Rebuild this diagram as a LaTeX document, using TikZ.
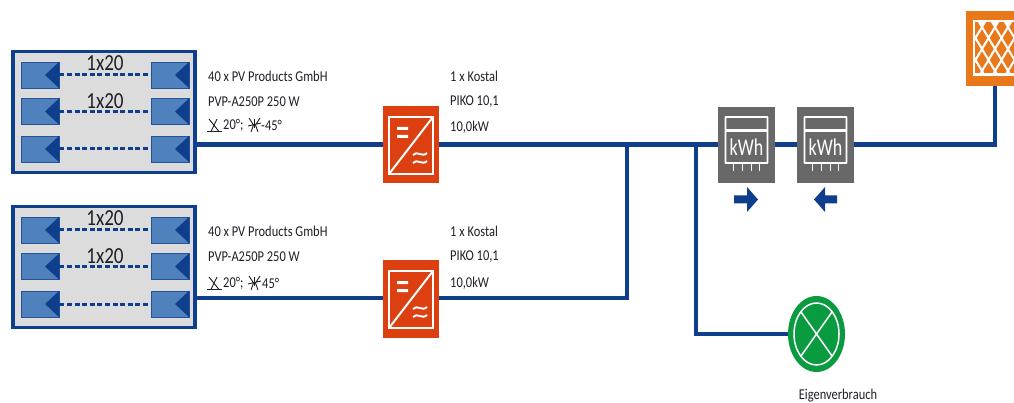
\documentclass[tikz,border=0pt]{standalone}
\usepackage{graphicx}
\usepackage{fontspec}
\setmainfont{Carlito}
\usetikzlibrary{shapes.geometric}
\definecolor{navy}{HTML}{0F3F8C}
\definecolor{panelgrey}{HTML}{DCDCDC}
\definecolor{modblue}{HTML}{4F81BD}
\definecolor{invred}{HTML}{DC4010}
\definecolor{metergrey}{HTML}{686868}
\definecolor{gridorange}{HTML}{E8781A}
\definecolor{loadgreen}{HTML}{0A9A40}
\definecolor{txt}{HTML}{1E1E26}
\newcommand{\nrw}[1]{\scalebox{.83}[1]{#1}}
\tikzset{
  wire/.style={draw=navy,line width=4.2pt,line join=miter},
  panel/.style={draw=navy,line width=3.2pt,fill=panelgrey,minimum width=182pt,minimum height=121pt,inner sep=0pt},
  modbox/.style={draw=navy!70!modblue,line width=.8pt,fill=modblue,minimum width=38pt,minimum height=26pt,inner sep=0pt},
  strand/.style={draw=navy,line width=3pt,dash pattern=on 5pt off 2.6pt},
  lab/.style={font=\fontsize{15}{16}\selectfont,text=txt,anchor=west,inner sep=0pt},
  strlab/.style={font=\fontsize{23}{24}\selectfont,text=txt,inner sep=0pt},
  inv/.style={fill=invred,minimum width=56pt,minimum height=77pt,inner sep=0pt},
  meter/.style={fill=metergrey,minimum width=57pt,minimum height=76pt,inner sep=0pt},
  thinw/.style={draw=white,line width=2pt},
  arrowshape/.style={fill=navy},
  diam/.style={fill=gridorange}
}
\newcommand{\modrow}[2]{% name, y
  \node[modbox] (#1l) at (40,#2) {};
  \fill[navy] (59,#2-13) -- (59,#2+13) -- (45,#2) -- cycle;
  \node[modbox] (#1r) at (170,#2) {};
  \fill[navy] (189,#2-13) -- (189,#2+13) -- (175,#2) -- cycle;
  \draw[strand] (#1l.east) -- (#1r.west);
}
\newcommand{\tilticons}[2]{% x, y
  \begin{scope}[shift={(#1,#2)},line width=.9pt,draw=txt]
    \draw (0,6.5) -- (15,6.5);
    \draw (2,-6) -- (12,6.5) (4,6.5) -- (10,-6);
    \draw (42,-7) -- (46.5,0) -- (44,7) (53,-7) -- (48.5,0) -- (51,7) (41,1) -- (54,-2) (47.5,-6) -- (47.5,3);
  \end{scope}
}
\newcommand{\inverterbody}[2]{% cx, cy
  \begin{scope}[shift={(#1,#2)}]
    \draw[thinw] (-22,-28) rectangle (22,29);
    \draw[thinw] (-22,29) -- (22,-28);
    \fill[white] (-14,-18) rectangle (-3,-15) (-14,-10) rectangle (-3,-7);
    \draw[white,line width=1.9pt] (2,10) .. controls (6,5) and (11,13) .. (16,8);
    \draw[white,line width=1.9pt] (2,18) .. controls (6,13) and (11,21) .. (16,16);
  \end{scope}
}
\newcommand{\meterbody}[2]{% cx, cy
  \begin{scope}[shift={(#1,#2)}]
    \draw[white,line width=1.8pt,rounded corners=.5pt] (-21,-28) rectangle (21,18);
    \draw[white,line width=3pt] (-21,-14.5) -- (21,-14.5);
    \node[text=white,inner sep=0pt,font=\fontsize{24}{25}\selectfont] at (0,2) {\scalebox{.75}[1]{kWh}};
    \draw[white,line width=.9pt] (-13,18) -- (-13,26) (-4.5,18) -- (-4.5,26) (4.5,18) -- (4.5,26) (13,18) -- (13,26);
  \end{scope}
}
\newcommand{\dmd}[2]{\fill[diam] (#1,#2-8.6) -- (#1+5.2,#2) -- (#1,#2+8.6) -- (#1-5.2,#2) -- cycle;}
\begin{document}
\begin{tikzpicture}[x=1pt,y=-1pt]
\useasboundingbox (0,0) rectangle (1014,403);
\node[panel] (p1) at (104,112) {};
\node[panel] (p2) at (104,267) {};
\node[inv] (i1) at (411,144.5) {};
\node[inv] (i2) at (411,299) {};
\node[meter] (m1) at (746.5,145) {};
\node[meter] (m2) at (825.5,145) {};
\node[fill=gridorange,minimum width=48pt,minimum height=75pt,inner sep=0pt,anchor=north west] (g) at (966,11) {};
\node[ellipse,fill=loadgreen,minimum width=57pt,minimum height=76pt,inner sep=0pt] (c) at (816.5,334) {};
\coordinate (j1) at (627,144.5);
\coordinate (j2) at (696,144.5);
\coordinate (gc) at (995,144.5);
\coordinate (cl) at (696,334);
\coordinate (c2) at (627,298);
% connectors
\draw[wire] (p1.east |- j1) -- (i1.west |- j1);
\draw[wire] (p2.east |- c2) -- (i2.west |- c2);
\draw[wire] (i1.east |- j1) -- (m1.west |- j1);
\draw[wire] (i2.east |- c2) -- (c2) -- (j1);
\draw[wire] (j2) -- (cl) -- (c.west);
\draw[wire] (m1.east |- j1) -- (m2.west |- j1);
\draw[wire] (m2.east |- j1) -- (gc) -- (gc |- g.south);
% panel contents
\modrow{a}{75}
\modrow{b}{111.5}
\modrow{cc}{149}
\modrow{d}{230}
\modrow{e}{266.5}
\modrow{f}{304}
\node[strlab] (s1) at (105,63) {\nrw{1x20}};
\node[strlab] (s2) at (105,101) {\nrw{1x20}};
\node[strlab] (s3) at (105,218) {\nrw{1x20}};
\node[strlab] (s4) at (105,256) {\nrw{1x20}};
% labels
\node[lab] (t1) at (208,76) {\nrw{40 x PV Products GmbH}};
\node[lab] (t2) at (208,102) {\nrw{PVP-A250P 250 W}};
\tilticons{207}{125}
\node[lab] (t3) at (223,125) {\nrw{20°;}};
\node[lab] (t3b) at (261,125) {\nrw{-45°}};
\node[lab] (t4) at (208,231) {\nrw{40 x PV Products GmbH}};
\node[lab] (t5) at (208,257) {\nrw{PVP-A250P 250 W}};
\tilticons{207}{283}
\node[lab] (t6) at (223,283) {\nrw{20°;}};
\node[lab] (t6b) at (262,283) {\nrw{45°}};
\node[lab] (u1) at (450,76) {\nrw{1 x Kostal}};
\node[lab] (u2) at (450,102) {\nrw{PIKO 10,1}};
\node[lab] (u3) at (450,127) {\nrw{10,0kW}};
\node[lab] (u4) at (450,231) {\nrw{1 x Kostal}};
\node[lab] (u5) at (450,257) {\nrw{PIKO 10,1}};
\node[lab] (u6) at (450,283) {\nrw{10,0kW}};
\inverterbody{411}{145}
\inverterbody{411}{299}
\meterbody{746.5}{145}
\meterbody{825.5}{145}
\fill[arrowshape] (734,195.5) -- (747,195.5) -- (747,187) -- (758,199.5) -- (747,212) -- (747,203.5) -- (734,203.5) -- cycle;
\fill[arrowshape] (837,195.5) -- (825,195.5) -- (825,187) -- (814,199.5) -- (825,212) -- (825,203.5) -- (837,203.5) -- cycle;
% grid
\fill[white] (973,20) rectangle (1014,76);
\begin{scope}
  \clip (975,23) rectangle (1014,73);
  \foreach \cx in {975.5,988.5,1001.5,1014.5} \foreach \cy in {27,49,71} {\dmd{\cx}{\cy}}
  \foreach \cx in {982,995,1008} \foreach \cy in {38,60} {\dmd{\cx}{\cy}}
\end{scope}
% load
\draw[white,line width=1.5pt] (816.5,334) ellipse [x radius=22.5,y radius=31];
\draw[white,line width=1.5pt] (801,312) -- (832,356) (832,312) -- (801,356);
\node[font=\fontsize{15}{16}\selectfont,text=txt,inner sep=0pt] (e) at (838,396) {\nrw{Eigenverbrauch}};
\end{tikzpicture}
\end{document}
